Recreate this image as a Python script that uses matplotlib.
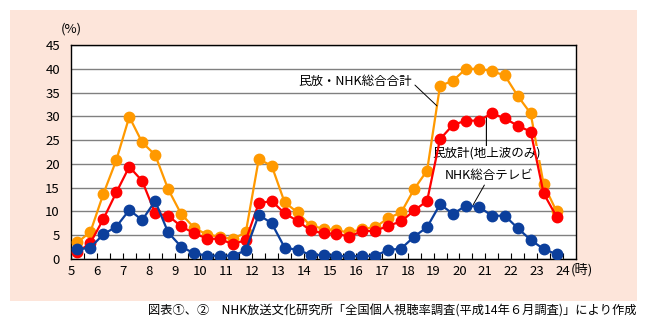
import numpy as np
import matplotlib
matplotlib.use("Agg")
from matplotlib import pyplot as plt
from matplotlib.patches import Rectangle

plt.rcParams['font.family'] = ['Noto Sans CJK JP', 'DejaVu Sans']

# half-hour slots, 5:00-24:00 (value plotted at the middle of each slot)
hours = np.arange(5.25, 24.0, 0.5)

total = [3.5, 5.7, 13.7, 20.8, 29.9, 24.5, 21.9, 14.7, 9.5, 6.6,
         5.1, 4.7, 4.2, 5.6, 21.0, 19.6, 11.9, 9.8, 7.0, 6.4,
         6.0, 5.6, 6.3, 6.7, 8.6, 9.8, 14.7, 18.6, 36.4, 37.5,
         40.0, 40.0, 39.5, 38.6, 34.3, 30.6, 15.7, 10.0]
commercial = [1.4, 3.4, 8.4, 14.0, 19.4, 16.4, 9.6, 9.1, 6.9, 5.4,
              4.3, 4.2, 3.1, 4.0, 11.7, 12.2, 9.6, 8.0, 6.0, 5.4,
              5.3, 4.7, 5.9, 5.9, 7.0, 7.9, 10.2, 12.2, 25.2, 28.2,
              29.1, 29.1, 30.6, 29.6, 28.0, 26.8, 13.8, 8.9]
nhk = [2.0, 2.4, 5.2, 6.8, 10.3, 8.2, 12.2, 5.6, 2.6, 1.2,
       0.7, 0.7, 0.7, 1.8, 9.3, 7.5, 2.4, 1.9, 0.9, 0.8,
       0.6, 0.6, 0.6, 0.7, 1.9, 2.2, 4.7, 6.7, 11.5, 9.5,
       11.2, 11.0, 9.1, 9.1, 6.5, 4.0, 2.1, 1.0]

xticks = list(range(5, 25))
yticks = list(range(0, 50, 5))

fig = plt.figure(figsize=(6.47, 3.27), dpi=100)
fig.patches.append(Rectangle((10 / 647, 1 - 301 / 327), 627 / 647, 291 / 327,
                             transform=fig.transFigure, facecolor='#fde5da',
                             edgecolor='none', zorder=-1))

ax = fig.add_axes([71 / 647, 1 - 259 / 327, 505 / 647, 214 / 327])
ax.set_facecolor('white')

ms = 7.5
ax.plot(hours, total, '-o', color='#ff9900', lw=1.6, ms=ms, zorder=3)
ax.plot(hours, commercial, '-o', color='#ff0000', lw=1.6, ms=ms, zorder=4)
ax.plot(hours, nhk, '-o', color='#0c3f9c', lw=1.6, ms=ms, zorder=5)

ax.set_xlim(5, 24.5)
ax.set_ylim(0, 45)
ax.set_xticks(xticks)
ax.set_xticks(np.arange(5.5, 24.5, 0.5), minor=True)
ax.set_yticks(yticks)
ax.tick_params(axis='x', which='both', direction='in', length=4, width=0.8,
               labelsize=9.5, pad=4)
ax.tick_params(axis='y', length=0, labelsize=9.5, pad=8)
ax.yaxis.grid(True, color='#808080', lw=1)
ax.set_axisbelow(True)
for s in ax.spines.values():
    s.set_color('black')
    s.set_linewidth(1)

ax.text(0.0, 1.073, '(%)', transform=ax.transAxes, fontsize=9.5,
        ha='center', va='center')
ax.annotate('(時)', xy=(24, 0), xycoords='data', xytext=(5.2, -8),
            textcoords='offset points', fontsize=9.5, ha='left', va='center',
            annotation_clip=False)

# series labels with leader lines
ax.annotate('民放・NHK総合合計', xy=(19.13, 32.2), xytext=(15.98, 37.4),
            fontsize=9, ha='center', va='center',
            arrowprops=dict(arrowstyle='-', color='black', lw=0.7,
                            shrinkA=0, shrinkB=0, relpos=(1.0, 0.4)))
ax.annotate('民放計(地上波のみ)', xy=(21.04, 29.9), xytext=(21.04, 22.3),
            fontsize=9, ha='center', va='center',
            bbox=dict(boxstyle='square,pad=0.05', fc='white', ec='none'),
            arrowprops=dict(arrowstyle='-', color='black', lw=0.8,
                            shrinkA=0, shrinkB=0, relpos=(0.5, 1.0)))
ax.annotate('NHK総合テレビ', xy=(20.53, 11.4), xytext=(21.16, 17.5),
            fontsize=9, ha='center', va='center',
            arrowprops=dict(arrowstyle='-', color='black', lw=0.7,
                            shrinkA=0, shrinkB=0, relpos=(0.46, 0.0)))

fig.text(636 / 647, 1 - 311 / 327,
         '図表①、②　NHK放送文化研究所「全国個人視聴率調査(平成14年６月調査)」により作成',
         fontsize=8.8, ha='right', va='center')

fig.savefig('out.png', dpi=100)
